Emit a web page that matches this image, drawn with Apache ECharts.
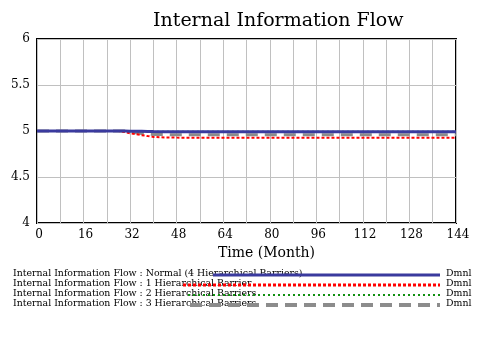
<!DOCTYPE html>
<html>
<head>
<meta charset="utf-8">
<title>Internal Information Flow</title>
<script src="https://cdn.jsdelivr.net/npm/echarts@6/dist/echarts.min.js"></script>
<style>
  html, body { margin: 0; padding: 0; background: #fff; }
  #chart { width: 479px; height: 360px; }
</style>
</head>
<body>
<div id="chart"></div>
<script>
// months (x values) and the four runs
var months = [0, 8, 16, 24, 28, 30, 32, 34, 36, 38, 40, 44, 48, 56, 64, 72, 80, 88, 96, 104, 112, 120, 128, 136, 144];
var normal4 = [5, 5, 5, 5, 5, 5, 4.998, 4.997, 4.996, 4.995, 4.994, 4.993, 4.992, 4.992, 4.992, 4.992, 4.992, 4.992, 4.992, 4.992, 4.992, 4.992, 4.992, 4.992, 4.992];
var barrier1 = [5, 5, 5, 5, 5, 4.99, 4.975, 4.965, 4.955, 4.945, 4.936, 4.93, 4.928, 4.927, 4.927, 4.927, 4.927, 4.927, 4.927, 4.927, 4.927, 4.927, 4.927, 4.927, 4.927];
var barrier2 = [5, 5, 5, 5, 5, 5, 4.998, 4.997, 4.996, 4.994, 4.993, 4.992, 4.991, 4.991, 4.991, 4.991, 4.991, 4.991, 4.991, 4.991, 4.991, 4.991, 4.991, 4.991, 4.991];
var barrier3 = [5, 5, 5, 5, 5, 5, 4.99, 4.98, 4.972, 4.967, 4.963, 4.961, 4.96, 4.96, 4.96, 4.96, 4.96, 4.96, 4.96, 4.96, 4.96, 4.96, 4.96, 4.96, 4.96];
var xTicks = [0, 16, 32, 48, 64, 80, 96, 112, 128, 144];
var yTicks = [4, 4.5, 5, 5.5, 6];
var seriesNames = [
    'Internal Information Flow : Normal (4 Hierarchical Barriers)',
    'Internal Information Flow : 1 Hierarchical Barrier',
    'Internal Information Flow : 2 Hierarchical Barriers',
    'Internal Information Flow : 3 Hierarchical Barriers'
];
var units = 'Dmnl';

var serif = 'DejaVu Serif';
var colors = ['#3a3a9e', '#ff0000', '#109010', '#8c8c8c'];

function pairs(vals) {
    var out = [];
    for (var i = 0; i < months.length; i++) {
        out.push([months[i], vals[i]]);
    }
    return out;
}

var chart = echarts.init(document.getElementById('chart'));

// legend rows drawn as graphic (text + line sample + units)
var legendGraphics = [];
var rowY = [275, 285, 295, 305];
var sampleStart = [213, 183, 188, 190];
var sampleStyles = [
    { stroke: colors[0], lineWidth: 3 },
    { stroke: colors[1], lineWidth: 3, lineDash: [3, 2] },
    { stroke: colors[2], lineWidth: 2, lineDash: [2, 3] },
    { stroke: colors[3], lineWidth: 4, lineDash: [12, 7] }
];
for (var i = 0; i < 4; i++) {
    legendGraphics.push({
        type: 'text',
        left: 13,
        top: rowY[i] - 6,
        style: { text: seriesNames[i], font: '9.4px "' + serif + '"', fill: '#000' },
        z: 1
    });
    legendGraphics.push({
        type: 'line',
        shape: { x1: sampleStart[i], y1: rowY[i], x2: 440, y2: rowY[i] },
        style: sampleStyles[i],
        z: 2
    });
    legendGraphics.push({
        type: 'text',
        left: 446,
        top: rowY[i] - 6,
        style: { text: units, font: '9.4px "' + serif + '"', fill: '#000' },
        z: 1
    });
}

var option = {
    animation: false,
    backgroundColor: '#fff',
    title: {
        text: 'Internal Information Flow',
        left: 148,
        top: 7,
        textStyle: {
            fontFamily: serif,
            fontSize: 19,
            fontWeight: 'normal',
            color: '#000'
        }
    },
    grid: {
        left: 37,
        right: 23,
        top: 39,
        bottom: 137,
        show: true,
        borderColor: '#000',
        borderWidth: 2,
        backgroundColor: 'transparent'
    },
    xAxis: {
        type: 'value',
        min: 0,
        max: 144,
        interval: 8,
        name: 'Time (Month)',
        nameLocation: 'middle',
        nameGap: 20,
        nameTextStyle: {
            fontFamily: serif,
            fontSize: 14,
            color: '#000',
            padding: [0, 0, 0, 40]
        },
        axisLine: { show: false },
        axisTick: { show: false },
        axisLabel: {
            fontFamily: serif,
            fontSize: 12,
            color: '#000',
            margin: 6,
            padding: [0, 0, 0, 4],
            formatter: function(v) {
                return xTicks.indexOf(v) >= 0 ? String(v) : '';
            }
        },
        splitLine: { show: true, lineStyle: { color: '#c0c0c0', width: 1 } }
    },
    yAxis: {
        type: 'value',
        min: yTicks[0],
        max: yTicks[yTicks.length - 1],
        interval: 0.5,
        axisLine: { show: false },
        axisTick: { show: false },
        axisLabel: {
            fontFamily: serif,
            fontSize: 12,
            color: '#000',
            margin: 7
        },
        splitLine: { show: true, lineStyle: { color: '#c0c0c0', width: 1 } }
    },
    graphic: legendGraphics,
    series: [{
        name: seriesNames[3],
        type: 'line',
        data: pairs(barrier3),
        showSymbol: false,
        z: 2,
        lineStyle: { color: colors[3], width: 3, type: [12, 7] }
    }, {
        name: seriesNames[2],
        type: 'line',
        data: pairs(barrier2),
        showSymbol: false,
        z: 3,
        lineStyle: { color: colors[2], width: 2, type: [2, 3] }
    }, {
        name: seriesNames[1],
        type: 'line',
        data: pairs(barrier1),
        showSymbol: false,
        z: 4,
        lineStyle: { color: colors[1], width: 2, type: [3, 2] }
    }, {
        name: seriesNames[0],
        type: 'line',
        data: pairs(normal4),
        showSymbol: false,
        z: 5,
        lineStyle: { color: colors[0], width: 3 }
    }]
};
chart.setOption(option);
</script>
</body>
</html>
